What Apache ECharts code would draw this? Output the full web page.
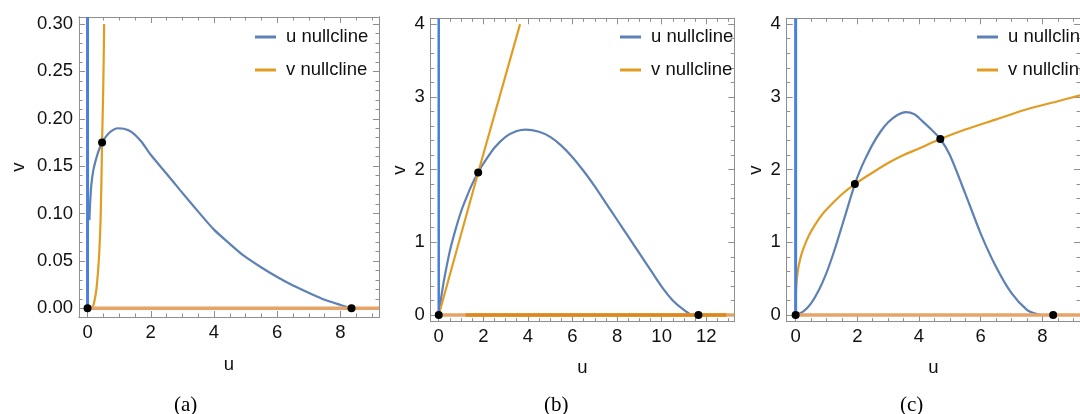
<!DOCTYPE html>
<html><head><meta charset="utf-8">
<script src="https://cdn.jsdelivr.net/npm/echarts@6/dist/echarts.min.js"></script>
<style>html,body{margin:0;padding:0;background:#fff}#c{width:1080px;height:414px}</style>
</head><body><div id="c"></div>
<script>
// ---------- Panel (a) ----------
const aUCurveU = [0.06, 0.08, 0.12, 0.18, 0.25, 0.35, 0.46, 0.6, 0.75, 0.95, 1.15, 1.4, 1.7, 2.0, 2.5, 2.92, 3.5, 4.0, 4.5, 4.92, 5.5, 6.0, 6.5, 7.03, 7.5, 8.0, 8.35];
const aUCurveV = [0.093, 0.11, 0.13, 0.145, 0.155, 0.166, 0.175, 0.182, 0.187, 0.19, 0.1895, 0.186, 0.176, 0.162, 0.142, 0.125, 0.102, 0.083, 0.068, 0.056, 0.043, 0.033, 0.024, 0.0158, 0.009, 0.0035, 0];
const aVCurveU = [0.12, 0.17, 0.22, 0.28, 0.33, 0.37, 0.41, 0.44, 0.46, 0.49, 0.51, 0.525];
const aVCurveV = [0, 0.002, 0.008, 0.02, 0.038, 0.058, 0.09, 0.135, 0.175, 0.22, 0.26, 0.30];
const aUVertU = [0, 0];      const aUVertV = [0, 0.3074];
const aVHorU = [0, 9.22];    const aVHorV = [0, 0];
const aDotsU = [0, 0.46, 8.35];
const aDotsV = [0, 0.175, 0];
const aXTicks = [0, 2, 4, 6, 8];
const aYTicks = [0, 0.05, 0.10, 0.15, 0.20, 0.25, 0.30];

// ---------- Panel (b) ----------
const bUCurveU = [0, 0.1, 0.25, 0.5, 0.75, 1, 1.25, 1.5, 1.77, 2, 2.5, 3, 3.5, 3.9, 4.5, 5, 5.5, 6, 6.5, 7, 7.5, 8, 8.5, 9, 9.5, 10, 10.5, 11, 11.4, 11.65];
const bUCurveV = [0, 0.22, 0.5, 0.88, 1.17, 1.42, 1.62, 1.8, 1.96, 2.08, 2.3, 2.45, 2.53, 2.55, 2.52, 2.45, 2.33, 2.17, 1.98, 1.77, 1.54, 1.31, 1.08, 0.85, 0.62, 0.39, 0.2, 0.07, 0.0, 0];
const bVLineU = [0, 1.77, 3.65];
const bVLineV = [0, 1.96, 4.0];
const bUVertU = [0, 0];      const bUVertV = [0, 4.08];
const bVHorLightU = [0, 13.26];   const bVHorLightV = [0, 0];
const bVHorDarkU = [1.2, 12.9];   const bVHorDarkV = [0, 0];
const bDotsU = [0, 1.77, 11.65];
const bDotsV = [0, 1.96, 0];
const bXTicks = [0, 2, 4, 6, 8, 10, 12];
const bYTicks = [0, 1, 2, 3, 4];

// ---------- Panel (c) ----------
const cUCurveU = [0, 0.25, 0.5, 0.75, 1, 1.25, 1.5, 1.75, 1.92, 2.1, 2.25, 2.5, 2.75, 3, 3.3, 3.57, 3.85, 4.1, 4.4, 4.69, 5, 5.5, 6, 6.5, 7, 7.5, 7.8, 8.0, 8.35];
const cUCurveV = [0, 0.05, 0.16, 0.34, 0.58, 0.88, 1.22, 1.57, 1.8, 2.0, 2.14, 2.35, 2.52, 2.65, 2.75, 2.79, 2.76, 2.67, 2.55, 2.42, 2.2, 1.67, 1.12, 0.66, 0.3, 0.07, 0.015, 0, 0];
const cVCurveU = [0, 0.002, 0.01, 0.03, 0.06, 0.1, 0.2, 0.35, 0.5, 0.75, 1, 1.5, 1.92, 2.5, 3, 3.5, 4, 4.69, 5.5, 6.5, 7.5, 8.5, 9.22];
const cVCurveV = [0, 0.19, 0.32, 0.45, 0.57, 0.68, 0.85, 1.02, 1.15, 1.32, 1.45, 1.66, 1.80, 1.96, 2.09, 2.20, 2.29, 2.42, 2.55, 2.69, 2.83, 2.94, 3.02];
const cUVertU = [0, 0];      const cUVertV = [0, 4.08];
const cVHorU = [0, 9.22];    const cVHorV = [0, 0];
const cDotsU = [0, 1.92, 4.69, 8.35];
const cDotsV = [0, 1.80, 2.42, 0];
const cXTicks = [0, 2, 4, 6, 8];
const cYTicks = [0, 1, 2, 3, 4];

const legendNames = ['u nullcline', 'v nullcline'];
const captions = ['(a)', '(b)', '(c)'];

// ---------- helpers ----------
const zip = (us, vs) => us.map((u, i) => [u, vs[i]]);
function minorVals(min, max, step) {
  const out = [];
  const start = Math.ceil(min / step - 1e-9);
  for (let k = start; k * step <= max + 1e-9; k++) out.push(+(k * step).toFixed(6));
  return out;
}
const FRAME = '#8f8f8f';
const FONT = '"Liberation Sans", Arial, sans-serif';

function axisSet(dim, gi, min, max, major, minorStep, fmt, name, nameGap, labelMargin) {
  const minor = minorVals(min, max, minorStep);
  const posA = dim === 'x' ? 'bottom' : 'left';
  const posB = dim === 'x' ? 'top' : 'right';
  const base = (pos, vals, len, primary) => ({
    type: 'value', gridIndex: gi, min, max, position: pos,
    axisLine: { show: true, onZero: false, lineStyle: { color: FRAME, width: 1 } },
    axisTick: { show: true, inside: true, length: len, customValues: vals, lineStyle: { color: FRAME, width: 1 } },
    axisLabel: primary ? { show: true, customValues: major, formatter: fmt, margin: labelMargin,
      fontSize: 18.5, color: '#111', fontFamily: FONT } : { show: false },
    splitLine: { show: false },
    name: primary ? name : '',
    nameLocation: 'middle', nameGap: nameGap,
    nameTextStyle: { fontSize: 18.5, color: '#111', fontFamily: FONT }
  });
  return [
    base(posA, major, 6, true),
    base(posA, minor, 3.5, false),
    base(posB, major, 6, false),
    base(posB, minor, 3.5, false)
  ];
}

const grids = [
  { left: 79, top: 17, width: 300, height: 300 },
  { left: 430.7, top: 18.3, width: 303.6, height: 303.4 },
  { left: 786.7, top: 18.3, width: 304, height: 303.4 }
];
const fmtInt = v => String(Math.round(v));
const fmt2 = v => v.toFixed(2);

const xAxes = [].concat(
  axisSet('x', 0, -0.27, 9.22, aXTicks, 0.5, fmtInt, 'u', 38, 6),
  axisSet('x', 1, -0.36, 13.26, bXTicks, 0.5, fmtInt, 'u', 37, 6),
  axisSet('x', 2, -0.29, 9.22, cXTicks, 0.5, fmtInt, 'u', 37, 6)
);
const yAxes = [].concat(
  axisSet('y', 0, -0.0092, 0.3074, aYTicks, 0.01, fmt2, 'v', 51, 6),
  axisSet('y', 1, -0.092, 4.08, bYTicks, 0.2, fmtInt, 'v', 21, 6),
  axisSet('y', 2, -0.092, 4.08, cYTicks, 0.2, fmtInt, 'v', 21, 6)
);

const BLUE = '#5e81b5', BLUE_V = '#4a80dc', ORANGE = '#e19c24', ORANGE_L = '#e6a468', ORANGE_D = '#e0871c';
function line(p, name, data, color, width, smooth, z) {
  return { type: 'line', name, xAxisIndex: p * 4, yAxisIndex: p * 4, data,
    showSymbol: false, symbol: 'none', smooth: smooth || false,
    itemStyle: { color }, lineStyle: { color, width }, z: z || 2, silent: true };
}
function dots(p, data) {
  return { type: 'scatter', name: 'eq', xAxisIndex: p * 4, yAxisIndex: p * 4, data,
    symbolSize: 8, itemStyle: { color: '#000', opacity: 1 }, z: 10, silent: true };
}

const series = [
  // panel a
  line(0, 'u nullcline', zip(aUCurveU, aUCurveV), BLUE, 2.2, 0.25, 3),
  line(0, 'v nullcline', zip(aVCurveU, aVCurveV), ORANGE, 2.2, 0.25, 3),
  line(0, 'u nullcline', zip(aUVertU, aUVertV), BLUE_V, 3, false, 3),
  line(0, 'v nullcline', zip(aVHorU, aVHorV), ORANGE_L, 3.5, false, 4),
  dots(0, zip(aDotsU, aDotsV)),
  // panel b
  line(1, 'u nullcline', zip(bUCurveU, bUCurveV), BLUE, 2.2, 0.25, 3),
  line(1, 'v nullcline', zip(bVLineU, bVLineV), ORANGE, 2.2, false, 3),
  line(1, 'u nullcline', zip(bUVertU, bUVertV), BLUE_V, 2.5, false, 3),
  line(1, 'v nullcline', zip(bVHorLightU, bVHorLightV), ORANGE_L, 3.5, false, 4),
  line(1, 'v nullcline', zip(bVHorDarkU, bVHorDarkV), ORANGE_D, 3.5, false, 5),
  dots(1, zip(bDotsU, bDotsV)),
  // panel c
  line(2, 'u nullcline', zip(cUCurveU, cUCurveV), BLUE, 2.2, 0.25, 3),
  line(2, 'v nullcline', zip(cVCurveU, cVCurveV), ORANGE, 2.2, 0.25, 3),
  line(2, 'u nullcline', zip(cUVertU, cUVertV), BLUE_V, 3, false, 3),
  line(2, 'v nullcline', zip(cVHorU, cVHorV), ORANGE_L, 3.5, false, 4),
  dots(2, zip(cDotsU, cDotsV))
];

const legendLefts = [255, 620, 977];
const legends = legendLefts.map(l => ({
  left: l, top: 27, orient: 'vertical', padding: 0, itemGap: 13,
  icon: 'rect', itemWidth: 21, itemHeight: 3, selectedMode: false,
  data: legendNames,
  textStyle: { fontSize: 18.5, color: '#111', fontFamily: FONT, lineHeight: 20, padding: [0, 0, 0, 5] }
}));

const capX = [186, 556, 912];
const graphics = captions.map((t, i) => ({
  type: 'text', left: capX[i] - 12, top: 395,
  style: { text: t, fill: '#000', font: '21px "Liberation Serif", "Times New Roman", serif' }
}));

const chart = echarts.init(document.getElementById('c'), null, { renderer: 'canvas' });
chart.setOption({
  animation: false,
  backgroundColor: '#fff',
  grid: grids,
  xAxis: xAxes,
  yAxis: yAxes,
  legend: legends,
  series,
  graphic: graphics
});
</script></body></html>
